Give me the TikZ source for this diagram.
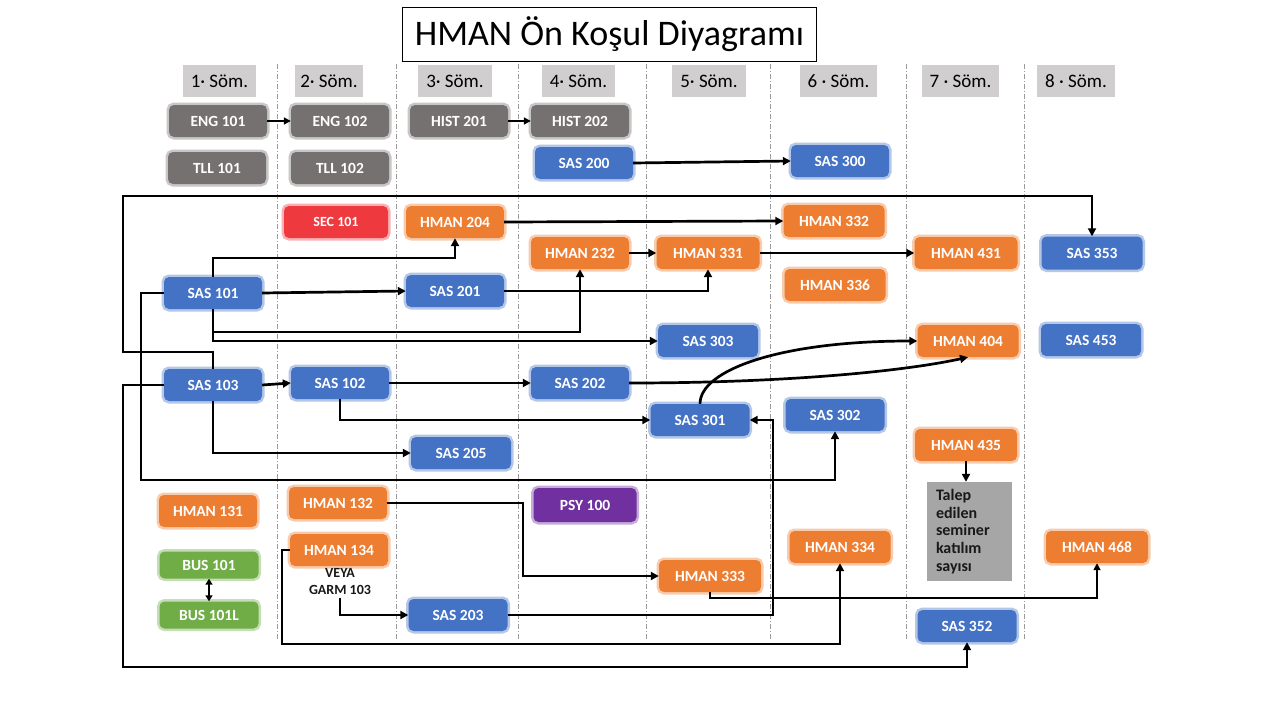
\documentclass[tikz,border=0pt]{standalone}
\usepackage{fontspec}
\setmainfont{Carlito}
\usetikzlibrary{arrows.meta}
\definecolor{cBlue}{HTML}{4472C4}
\definecolor{cOrange}{HTML}{ED7D31}
\definecolor{cGray}{HTML}{767171}
\definecolor{cGreen}{HTML}{70AD47}
\definecolor{cPurple}{HTML}{7030A0}
\definecolor{cRed}{HTML}{EE3A3F}
\definecolor{cHead}{HTML}{D0CECE}
\definecolor{cTalep}{HTML}{A6A6A6}
\definecolor{cDash}{HTML}{9A9A9A}
\begin{document}
\begin{tikzpicture}[x=1pt,y=-1pt,
 course/.style={rounded corners=5pt, minimum width=98pt, minimum height=32pt, inner sep=0pt, text=white,
   font=\fontsize{15.5}{18}\selectfont\bfseries, fill=#1, preaction={draw=#1!40, line width=5pt}},
 sem/.style={fill=cHead, minimum height=32pt, inner sep=0pt, font=\fontsize{19}{22}\selectfont},
 link/.style={line width=2.7pt, -{Triangle[length=8pt,width=8pt]}},
 midlink/.style={line width=1.9pt, -{Triangle[length=8pt,width=8pt]}},
 thinlink/.style={line width=1.6pt, -{Triangle[length=7pt,width=7pt]}},
 semline/.style={cDash, line width=0.6pt, dash pattern=on 5pt off 2pt on 1pt off 2pt},
]
\useasboundingbox[fill=white] (0,0) rectangle (1280,720);

% semester separators
\foreach \xx in {277,396.5,518,646,770,906,1024}
  \draw[semline] (\xx,64) -- (\xx,640);

% title
\node[draw, line width=0.8pt, minimum width=414pt, minimum height=54pt, inner sep=0pt,
  font=\fontsize{36}{40}\selectfont] (title) at (609.5,34) {HMAN Ön Koşul Diyagramı};

% semester headers
\node[sem, minimum width=73pt] (s1) at (219.5,81) {1· Söm.};
\node[sem, minimum width=68pt] (s2) at (329,81) {2· Söm.};
\node[sem, minimum width=74pt] (s3) at (455,81) {3· Söm.};
\node[sem, minimum width=73pt] (s4) at (578.5,81) {4· Söm.};
\node[sem, minimum width=74pt] (s5) at (709,81) {5· Söm.};
\node[sem, minimum width=77pt] (s6) at (838.5,81) {6 · Söm.};
\node[sem, minimum width=77pt] (s7) at (960.5,81) {7 · Söm.};
\node[sem, minimum width=78pt] (s8) at (1076,81) {8 · Söm.};

% courses
\node[course=cGray] (eng101) at (218,121) {ENG 101};
\node[course=cGray] (eng102) at (340,121) {ENG 102};
\node[course=cGray] (hist201) at (459,121) {HIST 201};
\node[course=cGray] (hist202) at (580,121) {HIST 202};
\node[course=cGray] (tll101) at (217,168) {TLL 101};
\node[course=cGray] (tll102) at (340,168) {TLL 102};
\node[course=cBlue] (sas200) at (584,163) {SAS 200};
\node[course=cBlue] (sas300) at (840,161) {SAS 300};

\node[course=cRed, minimum width=104pt, font=\fontsize{14}{16}\selectfont\bfseries] (sec101) at (336,222) {SEC 101};
\node[course=cOrange] (hman204) at (455,222) {HMAN 204};
\node[course=cOrange, minimum width=101pt] (hman332) at (834,221) {HMAN 332};

\node[course=cOrange] (hman232) at (580,253) {HMAN 232};
\node[course=cOrange, minimum width=103pt] (hman331) at (708,253) {HMAN 331};
\node[course=cOrange, minimum width=103pt] (hman431) at (966,253) {HMAN 431};
\node[course=cBlue, minimum width=101pt, minimum height=33pt] (sas353) at (1092,253) {SAS 353};

\node[course=cBlue] (sas101) at (213,293) {SAS 101};
\node[course=cBlue] (sas201) at (455,291) {SAS 201};
\node[course=cOrange, minimum width=101pt] (hman336) at (835,285) {HMAN 336};

\node[course=cBlue, minimum width=100pt] (sas303) at (708,341) {SAS 303};
\node[course=cOrange, minimum width=101pt] (hman404) at (968,341) {HMAN 404};
\node[course=cBlue, minimum width=100pt] (sas453) at (1091,340) {SAS 453};

\node[course=cBlue] (sas103) at (213,385) {SAS 103};
\node[course=cBlue] (sas102) at (340,383) {SAS 102};
\node[course=cBlue] (sas202) at (580,383) {SAS 202};

\node[course=cBlue, minimum width=99pt] (sas301) at (700,420) {SAS 301};
\node[course=cBlue, minimum width=99pt] (sas302) at (835,415) {SAS 302};
\node[course=cOrange, minimum width=102pt] (hman435) at (966,445) {HMAN 435};
\node[course=cBlue, minimum width=100pt] (sas205) at (461,453) {SAS 205};

\node[course=cOrange] (hman131) at (208,511) {HMAN 131};
\node[course=cOrange] (hman132) at (338,503) {HMAN 132};
\node[course=cPurple, minimum width=103pt, minimum height=34pt] (psy100) at (585,505) {PSY 100};

\node[fill=cTalep, minimum width=85pt, minimum height=99pt, text width=67pt, inner xsep=9pt, inner ysep=0pt,
  align=left, font=\fontsize{16}{17.8}\selectfont\bfseries, text=black!90] (talep) at (969.5,531.5)
  {Talep\\edilen\\seminer\\katılım\\sayısı};

\node[course=cOrange] (hman134) at (339,550) {HMAN 134};
\node[course=cOrange, minimum width=101pt] (hman334) at (840,547) {HMAN 334};
\node[course=cOrange, minimum width=102pt] (hman468) at (1097,547) {HMAN 468};

\node[course=cGreen, minimum width=99pt, minimum height=27pt] (bus101) at (209,565) {BUS 101};
\node[course=cGreen, minimum width=99pt, minimum height=27pt] (bus101l) at (209,615) {BUS 101L};

\node[course=cOrange, minimum width=102pt] (hman333) at (710,576) {HMAN 333};
\node[align=center, inner sep=3pt, font=\fontsize{14}{17}\selectfont\bfseries, text=black!90] (veya) at (340,582) {VEYA\\GARM 103};

\node[course=cBlue, minimum width=99pt] (sas203) at (458,615) {SAS 203};
\node[course=cBlue, minimum width=99pt] (sas352) at (967,626) {SAS 352};

% connectors
\draw[thinlink] (eng101) -- (eng102);
\draw[thinlink] (hist201) -- (hist202);
\draw[link] (sas200.east) -- (sas300.west);

\draw[midlink] (sas103.north) |- (123,352) -- (123,196) -| (sas353.north);
\draw[link] (sas101.north) |- (455,258) -- (hman204.south);
\draw[link] (sas101.east) -- (sas201.west);
\draw[link] (sas101.south) |- (580,332) -- (hman232.south);
\draw[link] (sas101.south) |- (sas303.west);
\draw[link] (sas101.west) -- (141,293) -- (141,480) -| (sas302.south);
\draw[link] (sas201.east) -| (hman331.south);
\draw[link] (hman204.east) -- (hman332.west);
\draw[link] (hman232.east) -- (hman331.west);
\draw[link] (hman331.east) -- (hman431.west);

\draw[link] (sas103.east) -- (sas102.west);
\draw[link] (sas102.east) -- (sas202.west);
\draw[link] (sas102.south) |- (sas301.west);
\draw[link] (sas103.south) |- (sas205.west);
\draw[midlink] (sas103.west) -| (123,667) -| (sas352.south);

\draw[link] (sas202.east) .. controls (780,383) and (900,372) .. (hman404.south);
\draw[link] (sas301.north) .. controls (700,370) and (780,341) .. (hman404.west);

\draw[link] (hman132.east) -| (523,576) -- (hman333.west);
\draw[link] (hman134.west) -| (282,644) -| (hman334.south);
\draw[link] (veya.south) |- (sas203.west);
\draw[link] (sas203.east) -| (773,420) -- (sas301.east);
\draw[thinlink] (hman333.south) |- (1097,598) -- (hman468.south);
\draw[link] (hman435.south) -- (hman435.south |- talep.north);
\draw[line width=1.6pt, {Triangle[length=6pt,width=7pt]}-{Triangle[length=6pt,width=7pt]}] (bus101.south) -- (bus101l.north);

\end{tikzpicture}
\end{document}
